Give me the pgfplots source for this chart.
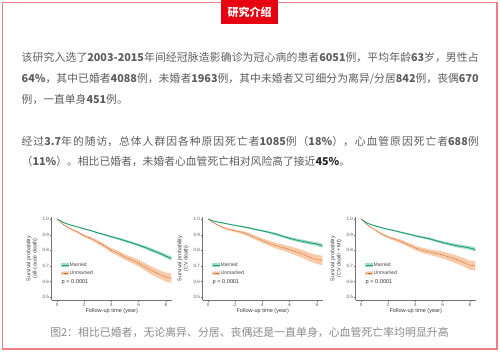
\documentclass[border=0pt]{standalone}
\usepackage{fontspec}
\usepackage{pgfplots}
\pgfplotsset{compat=1.18}
\usepackage{pgfplotstable}
\setmainfont{Liberation Sans}
\newfontfamily\cjk{Noto Sans CJK SC}
\definecolor{borderred}{HTML}{EF7D86}
\definecolor{labelred}{HTML}{E60012}
\definecolor{bodygray}{HTML}{5E5E5E}
\definecolor{capgray}{HTML}{8A8A8A}
\definecolor{kmgreen}{HTML}{1E9E72}
\definecolor{greenband}{HTML}{A6DDC6}
\definecolor{kmorange}{HTML}{D2672A}
\definecolor{orangeband}{HTML}{F8CBAA}

\pgfplotstableread{
x m u
0 1.000 1.000
0.5 0.977 0.963
1 0.962 0.938
1.5 0.950 0.918
2 0.938 0.893
2.5 0.926 0.875
3 0.912 0.853
3.5 0.900 0.828
4 0.887 0.800
4.5 0.875 0.780
5 0.862 0.757
5.5 0.848 0.738
6 0.833 0.718
6.5 0.818 0.693
7 0.800 0.668
7.5 0.783 0.648
8 0.763 0.628
8.4 0.748 0.622
}\dataA

\pgfplotstableread{
x m u
0 1.000 1.000
0.5 0.985 0.972
1 0.977 0.950
1.5 0.968 0.935
2 0.960 0.925
2.5 0.952 0.915
3 0.944 0.900
3.5 0.934 0.880
4 0.925 0.862
4.5 0.915 0.845
5 0.904 0.830
5.5 0.890 0.818
6 0.877 0.805
6.5 0.866 0.790
7 0.857 0.775
7.5 0.848 0.755
8 0.840 0.742
8.4 0.830 0.735
}\dataB

\pgfplotstableread{
x m u
0 1.000 1.000
0.5 0.972 0.960
1 0.958 0.932
1.5 0.945 0.905
2 0.935 0.885
2.5 0.925 0.870
3 0.914 0.855
3.5 0.904 0.835
4 0.893 0.815
4.5 0.884 0.800
5 0.875 0.790
5.5 0.862 0.780
6 0.850 0.770
6.5 0.840 0.757
7 0.830 0.742
7.5 0.823 0.725
8 0.815 0.705
8.4 0.805 0.700
}\dataC

\pgfplotsset{
  kmstyle/.style={
    scale only axis, width=120.4pt, height=83.5pt,
    anchor=south west,
    xmin=-0.4, xmax=8.45, ymin=0.48, ymax=1.015,
    axis x line=bottom, axis y line=left,
    axis line style={-, draw=black!55, line width=0.5pt},
    xtick={0,2,4,6,8}, ytick={0.5,0.6,0.7,0.8,0.9,1.0},
    yticklabel style={/pgf/number format/.cd, fixed, fixed zerofill, precision=1},
    tick style={draw=black!55, line width=0.4pt},
    major tick length=1.5pt, tick align=outside,
    ticklabel style={font=\fontsize{4.6}{5}\selectfont, text=black!65, inner sep=1pt},
    /pgf/number format/assume math mode=true,
    xlabel={Follow-up time (year)},
    every axis x label/.style={at={(axis description cs:0.5,0)}, yshift=-10.7pt, anchor=center, font=\fontsize{5.6}{6}\selectfont, text=black!75},
    every axis y label/.style={at={(axis description cs:-0.162,0.5)}, rotate=90, anchor=center, align=center, font=\fontsize{5.4}{6.2}\selectfont, text=black!75},
    legend style={at={(axis description cs:0.078,0.46)}, anchor=north west, draw=none, fill=none, font=\fontsize{5}{6}\selectfont, text=black!75, inner sep=0pt, row sep=1.6pt, nodes={inner sep=0.6pt}, cells={anchor=west}},
  }
}

% #1 table, #2 married band polygon, #3 unmarried band polygon
\newcommand{\kmcurves}[3]{%
  \addplot[fill=orangeband, draw=none, forget plot] coordinates {#3} -- cycle;
  \addplot[fill=greenband, draw=none, forget plot] coordinates {#2} -- cycle;
  \addplot[color=kmgreen, line width=0.9pt,
    legend image code/.code={\fill[greenband] (0pt,-1.6pt) rectangle (7pt,1.6pt); \draw[kmgreen, line width=0.9pt] (0pt,0pt) -- (7pt,0pt);}]
    table[x=x,y=m]{#1};
  \addlegendentry{Married}
  \addplot[color=kmorange, line width=0.6pt, dash pattern=on 1.1pt off 0.8pt,
    legend image code/.code={\fill[orangeband] (0pt,-1.6pt) rectangle (7pt,1.6pt); \draw[kmorange, line width=0.6pt, dash pattern=on 1.1pt off 0.8pt] (0pt,0pt) -- (7pt,0pt);}]
    table[x=x,y=u]{#1};
  \addlegendentry{Unmarried}
  \node[anchor=west, font=\fontsize{5.6}{6}\selectfont, text=black!80, inner sep=0pt] at (axis cs:0.33,0.596) {p < 0.0001};
}

\begin{document}
\begin{tikzpicture}[x=1pt,y=1pt]
\fill[white] (0,0) rectangle (500,353);
\draw[borderred, line width=1.4pt] (2.6,4) rectangle (496.8,350.7);
\fill[labelred] (221,329) rectangle (278.3,353);
\node[text=white, font=\cjk\bfseries\fontsize{11}{13}\selectfont, inner sep=0pt] at (249.6,340.5) {研究介绍};

\node[anchor=base west, inner sep=0pt, text=bodygray] at (21.5,291.3) {\parbox[t]{457pt}{\cjk\fontsize{10.8}{21}\selectfont\XeTeXlinebreaklocale "zh"\XeTeXlinebreakskip=0pt plus 2pt\noindent 该研究入选了\textbf{2003-2015}年间经冠脉造影确诊为冠心病的患者\textbf{6051}例，平均年龄\textbf{63}岁，男性占\linebreak\textbf{64\%}，其中已婚者\textbf{4088}例，未婚者\textbf{1963}例，其中未婚者又可细分为离异/分居\textbf{842}例，丧偶\textbf{670}\linebreak 例，一直单身\textbf{451}例。}};

\node[anchor=base west, inner sep=0pt, text=bodygray] at (21.5,207.1) {\parbox[t]{457pt}{\cjk\fontsize{10.8}{20}\selectfont\XeTeXlinebreaklocale "zh"\XeTeXlinebreakskip=0pt plus 2pt\noindent 经过\textbf{3.7}年的随访，总体人群因各种原因死亡者\textbf{1085}例（\textbf{18\%}），心血管原因死亡者\textbf{688}例\linebreak （\textbf{11\%}）。相比已婚者，未婚者心血管死亡相对风险高了接近\textbf{\textcolor{black!85}{45\%}}。}};

\node[anchor=base, inner sep=0pt, text=capgray, font=\cjk\fontsize{10.9}{12}\selectfont] at (249.5,16.1) {图2：相比已婚者，无论离异、分居、丧偶还是一直单身，心血管死亡率均明显升高};

\begin{axis}[kmstyle, at={(51.6pt,52.7pt)}, ylabel={Survival probability\\(all-cause death)}]
\kmcurves{\dataA}
{(0,1)(0.5,.978)(1,.964)(1.5,.952)(2,.941)(2.5,.930)(3,.917)(3.5,.905)(4,.893)(4.5,.882)(5,.870)(5.5,.856)(6,.842)(6.5,.828)(7,.811)(7.5,.794)(8,.775)(8.4,.761)
(8.4,.735)(8,.751)(7.5,.772)(7,.789)(6.5,.808)(6,.824)(5.5,.840)(5,.854)(4.5,.868)(4,.881)(3.5,.895)(3,.907)(2.5,.922)(2,.935)(1.5,.948)(1,.960)(0.5,.976)(0,1)}
{(0,1)(0.5,.966)(1,.943)(1.5,.925)(2,.901)(2.5,.885)(3,.865)(3.5,.841)(4,.815)(4.5,.797)(5,.775)(5.5,.758)(6,.740)(6.5,.717)(7,.694)(7.5,.675)(8,.657)(8.4,.652)
(8.4,.592)(8,.599)(7.5,.621)(7,.642)(6.5,.669)(6,.696)(5.5,.718)(5,.739)(4.5,.763)(4,.785)(3.5,.815)(3,.841)(2.5,.865)(2,.885)(1.5,.911)(1,.933)(0.5,.960)(0,1)}
\end{axis}
\begin{axis}[kmstyle, at={(202.6pt,52.7pt)}, ylabel={Survival probability\\(CV death)}]
\kmcurves{\dataB}
{(0,1)(0.5,.986)(1,.979)(1.5,.970)(2,.963)(2.5,.956)(3,.949)(3.5,.939)(4,.931)(4.5,.922)(5,.912)(5.5,.898)(6,.886)(6.5,.876)(7,.868)(7.5,.859)(8,.852)(8.4,.843)
(8.4,.817)(8,.828)(7.5,.837)(7,.846)(6.5,.856)(6,.868)(5.5,.882)(5,.896)(4.5,.908)(4,.919)(3.5,.929)(3,.939)(2.5,.948)(2,.957)(1.5,.966)(1,.975)(0.5,.984)(0,1)}
{(0,1)(0.5,.975)(1,.955)(1.5,.942)(2,.933)(2.5,.925)(3,.912)(3.5,.893)(4,.877)(4.5,.862)(5,.848)(5.5,.838)(6,.827)(6.5,.814)(7,.801)(7.5,.782)(8,.771)(8.4,.765)
(8.4,.705)(8,.713)(7.5,.728)(7,.749)(6.5,.766)(6,.783)(5.5,.798)(5,.812)(4.5,.828)(4,.847)(3.5,.867)(3,.888)(2.5,.905)(2,.917)(1.5,.928)(1,.945)(0.5,.969)(0,1)}
\end{axis}
\begin{axis}[kmstyle, at={(355.6pt,52.7pt)}, ylabel={Survival probability\\(CV death + MI)}]
\kmcurves{\dataC}
{(0,1)(0.5,.973)(1,.960)(1.5,.947)(2,.938)(2.5,.929)(3,.919)(3.5,.909)(4,.899)(4.5,.891)(5,.883)(5.5,.870)(6,.859)(6.5,.850)(7,.841)(7.5,.834)(8,.827)(8.4,.818)
(8.4,.792)(8,.803)(7.5,.812)(7,.819)(6.5,.830)(6,.841)(5.5,.854)(5,.867)(4.5,.877)(4,.887)(3.5,.899)(3,.909)(2.5,.921)(2,.932)(1.5,.943)(1,.956)(0.5,.971)(0,1)}
{(0,1)(0.5,.963)(1,.937)(1.5,.912)(2,.893)(2.5,.880)(3,.867)(3.5,.848)(4,.830)(4.5,.817)(5,.808)(5.5,.800)(6,.792)(6.5,.781)(7,.768)(7.5,.752)(8,.734)(8.4,.730)
(8.4,.670)(8,.676)(7.5,.698)(7,.716)(6.5,.733)(6,.748)(5.5,.760)(5,.772)(4.5,.783)(4,.800)(3.5,.822)(3,.843)(2.5,.860)(2,.877)(1.5,.898)(1,.927)(0.5,.957)(0,1)}
\end{axis}
\end{tikzpicture}
\end{document}
